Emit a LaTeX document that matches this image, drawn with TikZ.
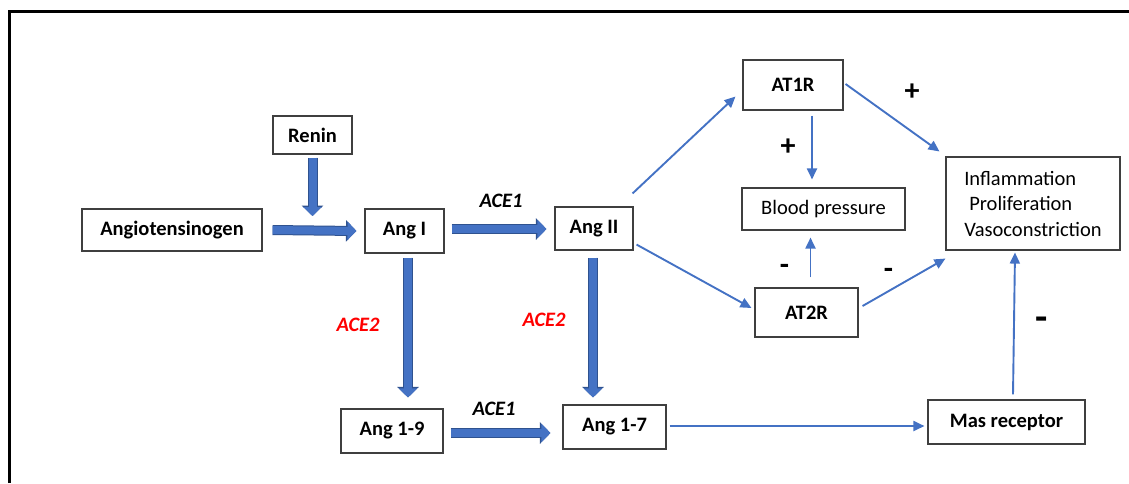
\documentclass[tikz,border=0pt]{standalone}
\usepackage{fontspec}
\setmainfont{Carlito}
\usetikzlibrary{arrows.meta,calc}
\definecolor{acc}{HTML}{4472C4}
\definecolor{accdark}{HTML}{2F528F}
\definecolor{boxline}{HTML}{3F3F3F}
\definecolor{acered}{HTML}{FF0000}
\tikzset{
 box/.style={draw=boxline, line width=1.1pt, inner sep=0pt, font=\fontsize{20.5}{23}\selectfont\bfseries},
 plainbox/.style={draw=boxline, line width=1.1pt, inner sep=0pt, font=\fontsize{20.5}{25.5}\selectfont},
 thinarrow/.style={draw=acc, line width=1.9pt, -{Triangle[length=11pt,width=10pt]}},
 blockarrow/.style={draw=acc, line width=8pt, -{Triangle[length=9pt,width=18pt]},
   preaction={draw=accdark, line width=10pt, -{Triangle[length=10.5pt,width=21pt]}}},
 enz/.style={font=\fontsize{20.5}{23}\selectfont\bfseries\itshape},
 sign/.style={font=\fontsize{30}{30}\selectfont\bfseries},
 bigsign/.style={font=\fontsize{40}{40}\selectfont\bfseries},
}
\begin{document}
\begin{tikzpicture}[x=1pt,y=-1pt]
\useasboundingbox (0,0) rectangle (1129,483);
\draw[line width=3.2pt, black] (9.2,483) -- (9.2,11.7) -- (1129,11.7);

% boxes
\node[box, minimum width=79pt, minimum height=38pt] (ren) at (312.5,135) {Renin};
\node[box, minimum width=180pt, minimum height=42pt] (ag) at (172,230) {Angiotensinogen};
\node[box, minimum width=79pt, minimum height=44pt] (a1) at (404.5,231) {Ang I};
\node[box, minimum width=78pt, minimum height=43pt] (a2) at (594,228.5) {Ang II};
\node[box, minimum width=100pt, minimum height=50pt] (at1) at (793,85) {AT1R};
\node[plainbox, minimum width=163pt, minimum height=42pt] (bp) at (823.5,209) {Blood pressure};
\node[plainbox, minimum width=174pt, minimum height=93pt, align=left] (infl) at (1033,203.5)
  {Inflammation\\\hspace*{5pt}Proliferation\\Vasoconstriction};
\node[box, minimum width=103pt, minimum height=49pt] (at2) at (806.5,312.5) {AT2R};
\node[box, minimum width=102pt, minimum height=44pt] (a19) at (392,431) {Ang 1-9};
\node[box, minimum width=103pt, minimum height=44pt] (a17) at (614.5,427) {Ang 1-7};
\node[box, minimum width=157pt, minimum height=44pt] (mas) at (1006.5,422) {Mas receptor};

\coordinate (rj) at (312.5,216);

% block arrows
\draw[blockarrow] ([xshift=10pt]ag.east) -- ([xshift=-8pt]a1.west);
\draw[blockarrow] ([yshift=-3pt]ren.south) -- (rj);
\draw[blockarrow] ([xshift=7pt,yshift=2pt]a1.east) -- ([xshift=-8pt,yshift=-0.5pt]a2.west);
\draw[blockarrow] ([xshift=3.5pt,yshift=-4pt]a1.south) -- ([xshift=16pt,yshift=11pt]a19.north);
\draw[blockarrow] ([xshift=-1pt,yshift=-7pt]a2.south) -- ([xshift=-21.5pt,yshift=7pt]a17.north);
\draw[blockarrow] ([xshift=7pt,yshift=-2pt]a19.east) -- ([xshift=-12pt,yshift=-6pt]a17.west);

% thin arrows
\draw[thinarrow] ([xshift=-1pt,yshift=13pt]a2.north east) -- ([xshift=-7pt,yshift=14pt]at1.south west);
\draw[thinarrow] ([xshift=3pt,yshift=6pt]a2.south east) -- ([xshift=-3pt,yshift=4.5pt]at2.west);
\draw[thinarrow] ([xshift=2pt,yshift=1pt]at1.east) -- ([xshift=-6pt,yshift=5pt]infl.north west);
\draw[thinarrow] ([xshift=19pt,yshift=-5pt]at1.south) -- ([xshift=-11.5pt,yshift=8pt]bp.north);
\draw[thinarrow] ([xshift=4pt,yshift=10pt]at2.north) -- ([xshift=-13pt,yshift=-7pt]bp.south);
\draw[thinarrow] ([xshift=4pt,yshift=6.5pt]at2.east) -- ([yshift=-8pt]infl.south west);
\draw[thinarrow] ([xshift=3pt,yshift=1pt]a17.east) -- ([xshift=-3pt,yshift=-4pt]mas.west);
\draw[thinarrow] ([xshift=6.5pt,yshift=5pt]mas.north) -- ([xshift=-18pt,yshift=-2pt]infl.south);

% labels
\node[enz] (e1) at (501,201) {ACE1};
\node[enz, text=acered] (e2) at (358,325) {ACE2};
\node[enz, text=acered] (e3) at (544,320) {ACE2};
\node[enz] (e4) at (494,409) {ACE1};
\node[sign] (s1) at (912,92) {+};
\node[sign] (s2) at (788,147) {+};
\node[sign] (s3) at (784.5,269) {-};
\node[sign] (s4) at (888.5,273) {-};
\node[bigsign] (s5) at (1042,324) {-};
\end{tikzpicture}
\end{document}
